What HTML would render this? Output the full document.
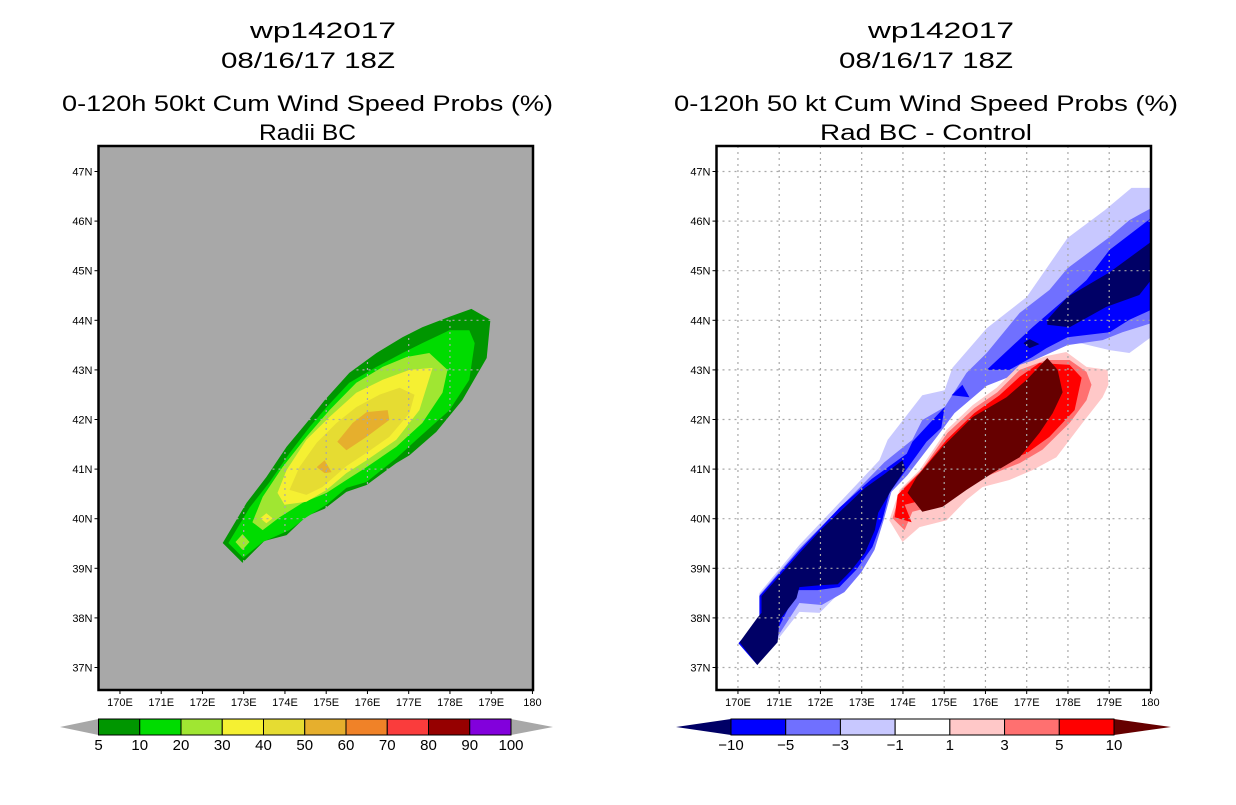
<!DOCTYPE html>
<html><head><meta charset="utf-8"><style>
body{margin:0;background:#fff;}
svg text{font-family:"Liberation Sans",sans-serif;fill:#000;}
</style></head><body>
<svg id="svg" width="1236" height="800" viewBox="0 0 1236 800">
<text x="250" y="38" font-size="22" textLength="146" lengthAdjust="spacingAndGlyphs">wp142017</text>
<text x="221" y="68" font-size="22" textLength="174" lengthAdjust="spacingAndGlyphs">08/16/17 18Z</text>
<text x="62" y="111" font-size="22" textLength="491" lengthAdjust="spacingAndGlyphs">0-120h 50kt Cum Wind Speed Probs (%)</text>
<text x="259" y="140" font-size="22" textLength="97" lengthAdjust="spacingAndGlyphs">Radii BC</text>
<text x="868" y="38" font-size="22" textLength="146" lengthAdjust="spacingAndGlyphs">wp142017</text>
<text x="839" y="68" font-size="22" textLength="174" lengthAdjust="spacingAndGlyphs">08/16/17 18Z</text>
<text x="674" y="111" font-size="22" textLength="504" lengthAdjust="spacingAndGlyphs">0-120h 50 kt Cum Wind Speed Probs (%)</text>
<text x="820" y="140" font-size="22" textLength="212" lengthAdjust="spacingAndGlyphs">Rad BC - Control</text>
<g id="left"></g>
<g id="right"></g>
<g id="bars"></g>
</svg>
<script>
const lonTicks=[170,171,172,173,174,175,176,177,178,179,180];
const lonLabels=["170E","171E","172E","173E","174E","175E","176E","177E","178E","179E","180"];
const latTicks=[37,38,39,40,41,42,43,44,45,46,47];
const latLabels=["37N","38N","39N","40N","41N","42N","43N","44N","45N","46N","47N"];
const probLevels=["5","10","20","30","40","50","60","70","80","90","100"];
const probColors=["#009600","#00dc00","#a0e632","#f5f032","#e6dc32","#e6af2d","#f08228","#fa3c3c","#960000","#8200dc"];
const diffLevels=["-10","-5","-3","-1","1","3","5","10"];
const diffColors=["#0000ff","#7070ff","#c8c8ff","#ffffff","#ffc8c8","#ff7070","#ff0000"];
// left contour polygons [lon,lat]
const p5=[[172.49,39.51],[172.97,39.11],[173.50,39.55],[174.04,39.67],[174.52,40.05],[174.96,40.20],[175.49,40.54],[175.98,40.68],[176.70,41.12],[177.02,41.28],[177.67,41.75],[178.30,42.39],[178.89,43.24],[178.98,44.01],[178.52,44.23],[177.99,44.07],[177.33,43.86],[176.85,43.66],[176.22,43.34],[175.56,42.94],[174.96,42.39],[174.52,41.93],[174.04,41.45],[173.55,40.84],[173.07,40.32]];
const p10=[[172.63,39.51],[172.99,39.21],[173.46,39.53],[174.11,39.77],[174.52,40.03],[175.01,40.28],[175.49,40.62],[175.98,40.74],[176.70,41.22],[177.19,41.59],[177.99,42.19],[178.47,42.80],[178.60,43.54],[178.47,43.80],[177.99,43.80],[177.33,43.54],[176.85,43.34],[176.22,43.06],[175.56,42.74],[175.01,42.25],[174.60,41.85],[174.11,41.32],[173.63,40.74],[173.14,40.22]];
const p20=[[173.21,39.93],[173.46,39.77],[173.87,40.03],[174.43,40.32],[175.01,40.52],[175.49,40.78],[175.98,41.04],[176.70,41.45],[177.33,41.93],[177.82,42.54],[177.94,43.00],[177.50,43.34],[176.95,43.26],[176.37,43.06],[175.73,42.74],[175.08,42.19],[174.52,41.65],[173.94,41.04],[173.46,40.44]];
const p20b=[[172.97,39.69],[173.14,39.53],[172.97,39.37],[172.80,39.53]];
const p30=[[173.82,40.52],[173.99,40.28],[174.52,40.34],[175.01,40.58],[175.49,40.92],[175.98,41.18],[176.70,41.59],[177.26,42.19],[177.58,43.04],[177.02,43.00],[176.37,42.80],[175.73,42.54],[175.08,42.05],[174.52,41.59],[174.04,40.98]];
const p30b=[[173.55,40.11],[173.70,40.01],[173.55,39.91],[173.40,40.01]];
const p40=[[174.11,40.58],[174.52,40.48],[174.91,40.64],[175.49,41.06],[175.98,41.33],[176.53,41.65],[177.02,42.13],[177.14,42.50],[176.78,42.64],[176.29,42.50],[175.73,42.25],[175.25,41.93],[174.77,41.53],[174.35,41.04]];
const p50=[[175.27,41.55],[175.49,41.38],[175.98,41.65],[176.53,41.99],[176.49,42.19],[175.98,42.15],[175.64,41.93]];
const p50b=[[174.77,41.04],[174.96,41.18],[175.13,40.94],[174.96,40.92]];
// right difference polygons
const dBlue1=[[170.04,37.51],[170.52,38.00],[170.52,38.50],[171.49,39.47],[172.46,40.32],[173.43,41.18],[173.63,41.59],[174.47,42.49],[175.01,42.59],[175.20,43.04],[176.03,43.84],[177.00,44.47],[177.99,45.66],[178.89,46.22],[179.54,46.67],[180.1,46.67],[180.1,43.66],[179.49,43.34],[179.01,43.40],[177.99,43.60],[177.14,43.26],[176.58,42.90],[176.03,42.76],[175.20,42.19],[174.81,41.73],[174.09,40.92],[173.67,40.58],[173.48,39.97],[173.26,39.37],[172.95,38.97],[172.53,38.56],[171.98,38.10],[171.49,38.12],[170.96,37.56],[170.47,37.05]];
const dBlue2=[[170.09,37.55],[170.57,37.96],[170.52,38.46],[171.49,39.40],[172.53,40.27],[173.55,41.14],[174.23,41.59],[174.47,41.99],[175.01,42.25],[175.54,42.94],[176.03,43.34],[176.83,44.15],[177.55,44.61],[177.99,45.05],[179.01,45.68],[179.49,46.02],[180.1,46.26],[180.1,43.94],[179.32,43.76],[178.84,43.60],[177.99,43.50],[177.19,43.20],[176.58,42.86],[176.03,42.68],[175.25,42.13],[174.84,41.67],[174.11,40.88],[173.72,40.54],[173.53,39.97],[173.31,39.37],[172.99,38.92],[172.58,38.52],[172.03,38.26],[171.49,38.30],[170.96,37.62],[170.47,37.09]];
const dBlue3a=[[170.01,37.49],[170.52,37.96],[170.52,38.44],[171.49,39.36],[172.46,40.22],[173.24,40.80],[174.09,41.31],[174.23,41.55],[175.01,42.25],[174.93,41.83],[174.57,41.55],[174.11,41.02],[173.67,40.52],[173.50,39.97],[173.26,39.43],[172.87,38.97],[172.46,38.62],[171.93,38.56],[171.44,38.56],[170.96,37.76],[170.91,37.56],[170.47,37.05]];
const dBlue3b=[[176.03,43.00],[177.14,43.86],[177.99,44.47],[178.45,44.81],[179.01,45.42],[180.1,46.06],[180.1,44.21],[179.49,44.01],[179.01,43.76],[177.99,43.66],[177.48,43.44],[177.14,43.26],[176.58,43.00]];
const dBlue3c=[[175.18,42.49],[175.44,42.70],[175.61,42.45]];
const dNavyA=[[170.04,37.51],[170.47,38.00],[170.57,38.10],[170.57,38.44],[171.55,39.36],[172.04,39.80],[172.52,40.18],[173.08,40.62],[173.55,40.90],[173.99,41.18],[174.06,41.00],[173.72,40.58],[173.40,40.12],[173.32,39.77],[173.08,39.31],[172.74,38.95],[172.42,38.68],[171.98,38.66],[171.49,38.62],[171.42,38.40],[171.01,37.96],[170.96,37.51],[170.47,37.05]];
const dNavyB=[[177.50,44.01],[177.99,44.47],[179.01,44.97],[180.1,45.58],[180.1,44.81],[179.73,44.51],[178.93,44.27],[178.04,43.86],[177.50,43.91]];
const dNavyC=[[176.92,43.54],[177.07,43.62],[177.31,43.52],[177.07,43.44]];
const dPink=[[177.48,43.28],[177.96,43.36],[178.45,43.06],[178.96,43.00],[178.98,42.70],[178.84,42.45],[178.35,41.93],[177.72,41.24],[177.14,40.98],[176.58,40.78],[175.93,40.64],[175.54,40.38],[175.06,39.97],[174.40,39.83],[173.99,39.53],[173.67,39.97],[173.92,40.58],[174.40,40.98],[175.06,41.79],[175.69,42.29],[176.27,42.64],[176.83,43.10]];
const dSalmon=[[177.48,43.20],[178.04,43.20],[178.45,42.96],[178.57,42.70],[178.45,42.39],[178.04,41.93],[177.38,41.39],[176.83,41.12],[176.10,40.88],[175.37,40.58],[174.89,40.28],[174.23,40.14],[174.04,39.77],[173.75,40.01],[173.96,40.58],[174.45,40.98],[175.08,41.73],[175.73,42.23],[176.29,42.55],[176.83,43.00]];
const dRed=[[177.31,43.14],[178.04,43.10],[178.33,42.84],[178.16,42.19],[177.55,41.65],[177.00,41.32],[176.34,41.12],[175.49,40.82],[175.01,40.64],[174.52,40.38],[174.04,40.28],[174.21,39.93],[173.80,40.03],[173.87,40.48],[174.40,40.92],[175.06,41.59],[175.73,42.13],[176.34,42.49],[176.83,42.86]];
const dMaroon=[[177.50,43.24],[177.75,43.00],[177.87,42.55],[177.63,42.13],[177.31,41.73],[176.83,41.24],[176.17,40.92],[175.54,40.58],[174.96,40.24],[174.47,40.14],[174.11,40.52],[174.33,40.84],[174.96,41.45],[175.69,42.05],[176.51,42.45],[177.00,42.80]];

const NS="http://www.w3.org/2000/svg";
const W=434.5, TOP=146, BOT=690, PXDEG=41.25, PYDEG=49.6;
function mk(tag,attrs,parent){const e=document.createElementNS(NS,tag);for(const k in attrs)e.setAttribute(k,attrs[k]);parent.appendChild(e);return e;}
function axes(x0){
  const xs=lon=>x0+(lon-169.48)*PXDEG;
  const ys=lat=>171.5+(47-lat)*PYDEG;
  return {xs,ys};
}
function poly(g,ax,pts,color,name){
  const e=mk('polygon',{points:pts.map(p=>Math.min(ax.xs(p[0]),ax.x1).toFixed(1)+','+ax.ys(p[1]).toFixed(1)).join(' '),fill:color},g);
  
  
}
function map(g,x0,bg,layers,prefix){
  const ax=axes(x0); ax.x1=x0+W;
  const cid='clip'+prefix;
  const cp=mk('clipPath',{id:cid},g); mk('rect',{x:x0,y:TOP,width:W,height:BOT-TOP},cp);
  const bgr=mk('rect',{x:x0,y:TOP,width:W,height:BOT-TOP,fill:bg},g);
  
  
  const cg=mk('g',{'clip-path':'url(#'+cid+')'},g);
  layers.forEach(l=>poly(cg,ax,l[0],l[1],prefix+'-'+l[2]));
  lonTicks.slice(0,10).forEach((lo,i)=>{
    const gl=mk('line',{x1:ax.xs(lo),x2:ax.xs(lo),y1:TOP,y2:BOT,stroke:'#a8a8a8','stroke-width':1.2,'stroke-dasharray':'2,4'},g);
    
    
  });
  latTicks.forEach((la,i)=>{
    const gl=mk('line',{x1:x0,x2:x0+W,y1:ax.ys(la),y2:ax.ys(la),stroke:'#a8a8a8','stroke-width':1.2,'stroke-dasharray':'2,4'},g);
    
    
  });
  const fr=mk('rect',{x:x0,y:TOP,width:W,height:BOT-TOP,fill:'none',stroke:'#000','stroke-width':2.5},g);
  
  
  lonTicks.forEach((lo,i)=>{
    const x=Math.min(ax.xs(lo),x0+W);
    mk('line',{x1:x,x2:x,y1:BOT,y2:BOT+4,stroke:'#000','stroke-width':1},g);
    const t=mk('text',{x:x,y:BOT+16,'font-size':11,'text-anchor':'middle'},g);
    t.textContent=lonLabels[i];
    
    
  });
  latTicks.forEach((la,i)=>{
    const y=ax.ys(la);
    mk('line',{x1:x0-4,x2:x0,y1:y,y2:y,stroke:'#000','stroke-width':1},g);
    const t=mk('text',{x:x0-6,y:y+4,'font-size':11,'text-anchor':'end'},g);
    t.textContent=latLabels[i];
    
    
  });
}
map(document.getElementById('left'),98.5,'#a8a8a8',[
  [p5,probColors[0],'contour-5'],[p10,probColors[1],'contour-10'],[p20,probColors[2],'contour-20'],[p20b,probColors[2],'contour-20-spot'],
  [p30,probColors[3],'contour-30'],[p30b,probColors[3],'contour-30-spot'],[p40,probColors[4],'contour-40'],[p50,probColors[5],'contour-50'],[p50b,probColors[5],'contour-50-spot']
],'left');
map(document.getElementById('right'),716.5,'#ffffff',[
  [dBlue1,diffColors[2],'diff-minus1'],[dBlue2,diffColors[1],'diff-minus3'],[dBlue3a,diffColors[0],'diff-minus5-sw'],[dBlue3b,diffColors[0],'diff-minus5-ne'],[dBlue3c,diffColors[0],'diff-minus5-spot'],
  [dNavyA,'#000066','diff-minus10-sw'],[dNavyB,'#000066','diff-minus10-ne'],[dNavyC,'#000066','diff-minus10-spot'],
  [dPink,diffColors[4],'diff-plus1'],[dSalmon,diffColors[5],'diff-plus3'],[dRed,diffColors[6],'diff-plus5'],[dMaroon,'#660000','diff-plus10']
],'right');

const bars=document.getElementById('bars');
function colorbar(x0,x1,y0,y1,colors,labels,leftTri,rightTri,lx0,lx1,prefix){
  const n=colors.length, w=(x1-x0)/n, ym=(y0+y1)/2;
  const lt=mk('polygon',{points:`${lx0},${ym} ${x0},${y0} ${x0},${y1}`,fill:leftTri},bars);
  
  
  const rt=mk('polygon',{points:`${lx1},${ym} ${x1},${y0} ${x1},${y1}`,fill:rightTri},bars);
  
  
  colors.forEach((c,i)=>{
    const r=mk('rect',{x:x0+i*w,y:y0,width:w,height:y1-y0,fill:c,stroke:'#000','stroke-width':1},bars);
    
    
  });
  labels.forEach((l,i)=>{
    const t=mk('text',{x:x0+i*w,y:y1+15,'font-size':15,'text-anchor':'middle'},bars);
    t.textContent=l.replace('-','\u2212');
    
    
  });
}
colorbar(98.5,511,719,735,probColors,probLevels,'#a8a8a8','#a8a8a8',60,553,'left');
colorbar(731,1114,719,735,diffColors,diffLevels,'#000066','#660000',676,1171,'right');
</script>
</body></html>
